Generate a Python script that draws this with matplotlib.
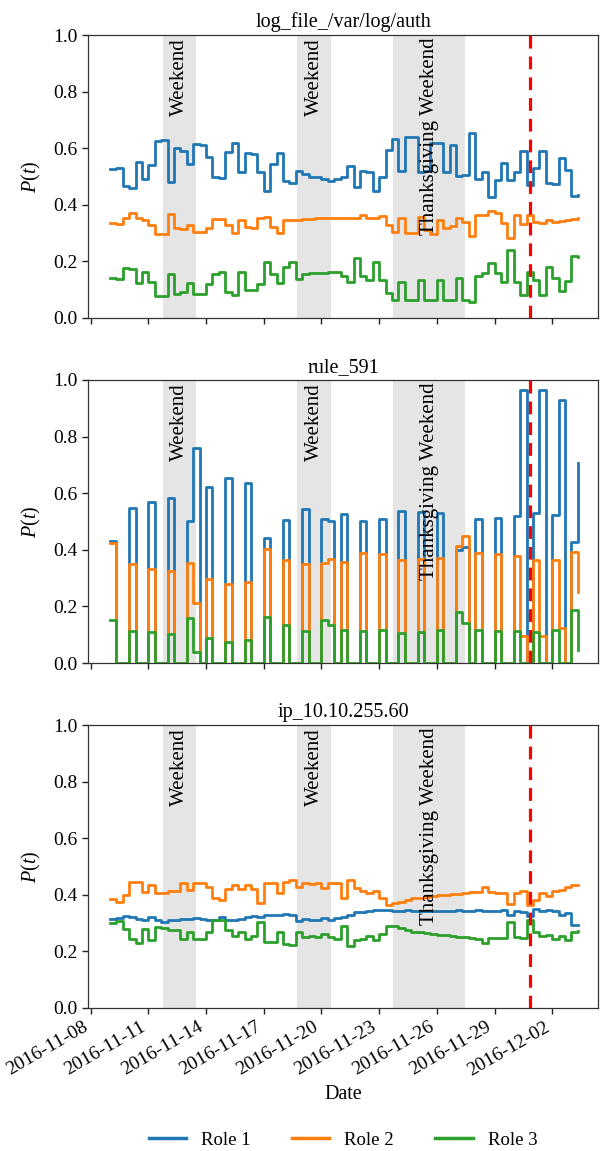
import numpy as np
import pandas as pd
import matplotlib
matplotlib.use('Agg')
import matplotlib.pyplot as plt
import matplotlib.dates as mdates
from matplotlib.lines import Line2D

plt.rcParams['font.family'] = ['Liberation Serif', 'DejaVu Serif']
plt.rcParams['mathtext.fontset'] = 'custom'
plt.rcParams['mathtext.rm'] = 'Liberation Serif'
plt.rcParams['mathtext.it'] = 'Liberation Serif:italic'
plt.rcParams['font.size'] = 14

# ---------------- data ----------------
start_time = '2016-11-09 00:00'
n_bins = 74
bin_freq = '8h'

titles = ['log_file_/var/log/auth', 'rule_591', 'ip_10.10.255.60']
role_names = ['Role 1', 'Role 2', 'Role 3']

log_role1 = [0.525, 0.53, 0.465, 0.46, 0.55, 0.49, 0.54, 0.625, 0.63, 0.48,
             0.60, 0.59, 0.545, 0.615, 0.61, 0.57, 0.50, 0.495, 0.585, 0.62,
             0.515, 0.582, 0.58, 0.515, 0.449, 0.544, 0.582, 0.484, 0.476, 0.52,
             0.508, 0.499, 0.497, 0.49, 0.484, 0.49, 0.497, 0.538, 0.462, 0.52,
             0.515, 0.45, 0.497, 0.594, 0.631, 0.52, 0.641, 0.641, 0.515, 0.52,
             0.62, 0.62, 0.517, 0.611, 0.502, 0.505, 0.655, 0.49, 0.517, 0.429,
             0.488, 0.549, 0.488, 0.517, 0.591, 0.47, 0.529, 0.591, 0.476, 0.473,
             0.564, 0.523, 0.431, 0.435]
log_role2 = [0.335, 0.333, 0.355, 0.37, 0.352, 0.345, 0.33, 0.298, 0.298, 0.367,
             0.318, 0.315, 0.328, 0.305, 0.305, 0.318, 0.35, 0.35, 0.33, 0.30,
             0.346, 0.322, 0.317, 0.352, 0.358, 0.322, 0.30, 0.346, 0.345, 0.348,
             0.35, 0.35, 0.352, 0.355, 0.355, 0.352, 0.355, 0.352, 0.352, 0.364,
             0.352, 0.352, 0.361, 0.329, 0.305, 0.352, 0.301, 0.301, 0.357, 0.311,
             0.297, 0.346, 0.317, 0.325, 0.355, 0.34, 0.29, 0.364, 0.364, 0.377,
             0.37, 0.334, 0.282, 0.364, 0.332, 0.364, 0.339, 0.334, 0.346, 0.339,
             0.343, 0.346, 0.35, 0.352]
log_role3 = [0.14, 0.138, 0.176, 0.172, 0.122, 0.164, 0.128, 0.077, 0.078, 0.157,
             0.086, 0.093, 0.125, 0.085, 0.085, 0.12, 0.156, 0.163, 0.093, 0.082,
             0.161, 0.10, 0.10, 0.12, 0.197, 0.154, 0.122, 0.181, 0.197, 0.138,
             0.156, 0.16, 0.158, 0.16, 0.162, 0.163, 0.15, 0.128, 0.211, 0.15,
             0.134, 0.197, 0.134, 0.09, 0.064, 0.128, 0.064, 0.064, 0.134, 0.064,
             0.064, 0.134, 0.064, 0.064, 0.14, 0.064, 0.058, 0.15, 0.158, 0.195,
             0.158, 0.128, 0.242, 0.128, 0.083, 0.163, 0.134, 0.083, 0.181, 0.14,
             0.095, 0.13, 0.219, 0.215]

rule_role1 = [0.431, 0, 0, 0.547, 0, 0, 0.570, 0, 0, 0.582,
              0, 0, 0.503, 0.759, 0, 0.623, 0, 0, 0.652, 0,
              0, 0.637, 0, 0, 0.443, 0, 0, 0.505, 0, 0,
              0.543, 0, 0, 0.508, 0.503, 0, 0.527, 0, 0, 0.503,
              0, 0, 0.508, 0, 0, 0.538, 0, 0, 0.535, 0,
              0, 0.529, 0, 0, 0.40, 0.41, 0, 0.508, 0, 0,
              0.511, 0, 0, 0.519, 0.965, 0, 0.529, 0.965, 0, 0.523,
              0.929, 0, 0.426, 0.706]
rule_role2 = [0.423, 0, 0, 0.349, 0, 0, 0.331, 0, 0, 0.326,
              0, 0, 0.352, 0.213, 0, 0.297, 0, 0, 0.279, 0,
              0, 0.287, 0, 0, 0.404, 0, 0, 0.364, 0, 0,
              0.349, 0, 0, 0.352, 0.368, 0, 0.358, 0, 0, 0.39,
              0, 0, 0.385, 0, 0, 0.364, 0, 0, 0.366, 0,
              0, 0.37, 0, 0, 0.415, 0.449, 0, 0.388, 0, 0,
              0.385, 0, 0, 0.379, 0.095, 0, 0.364, 0.095, 0, 0.364,
              0.122, 0, 0.393, 0.252]
rule_role3 = [0.153, 0, 0, 0.113, 0, 0, 0.111, 0, 0, 0.104,
              0, 0, 0.158, 0.04, 0, 0.09, 0, 0, 0.074, 0,
              0, 0.081, 0, 0, 0.162, 0, 0, 0.134, 0, 0,
              0.113, 0, 0, 0.153, 0.134, 0, 0.117, 0, 0, 0.114,
              0, 0, 0.117, 0, 0, 0.105, 0, 0, 0.111, 0,
              0, 0.117, 0, 0, 0.181, 0.14, 0, 0.117, 0, 0,
              0.114, 0, 0, 0.114, 0.0, 0, 0.111, 0.0, 0, 0.117,
              0.0, 0, 0.187, 0.046]

ip_role1 = [0.315, 0.318, 0.325, 0.322, 0.315, 0.312, 0.322, 0.31, 0.305, 0.31,
            0.312, 0.315, 0.314, 0.318, 0.316, 0.31, 0.312, 0.32, 0.31, 0.31,
            0.313, 0.32, 0.324, 0.322, 0.33, 0.33, 0.327, 0.333, 0.33, 0.306,
            0.315, 0.31, 0.312, 0.318, 0.312, 0.318, 0.32, 0.33, 0.34, 0.34,
            0.342, 0.345, 0.348, 0.345, 0.342, 0.343, 0.345, 0.343, 0.342, 0.343,
            0.342, 0.344, 0.342, 0.343, 0.345, 0.342, 0.343, 0.345, 0.343, 0.342,
            0.344, 0.345, 0.328, 0.342, 0.338, 0.325, 0.35, 0.342, 0.345, 0.342,
            0.33, 0.335, 0.295, 0.295]
ip_role2 = [0.385, 0.376, 0.40, 0.446, 0.446, 0.41, 0.434, 0.408, 0.408, 0.412,
            0.415, 0.44, 0.418, 0.44, 0.44, 0.426, 0.388, 0.381, 0.42, 0.434,
            0.422, 0.434, 0.42, 0.37, 0.44, 0.44, 0.405, 0.446, 0.452, 0.428,
            0.44, 0.438, 0.44, 0.425, 0.44, 0.44, 0.387, 0.452, 0.423, 0.415,
            0.405, 0.415, 0.39, 0.364, 0.37, 0.375, 0.38, 0.387, 0.39, 0.393,
            0.396, 0.398, 0.40, 0.402, 0.404, 0.406, 0.41, 0.41, 0.426, 0.41,
            0.408, 0.408, 0.367, 0.408, 0.415, 0.364, 0.381, 0.405, 0.396, 0.415,
            0.417, 0.426, 0.434, 0.434]
ip_role3 = [0.30, 0.306, 0.28, 0.245, 0.228, 0.28, 0.24, 0.285, 0.283, 0.276,
            0.276, 0.245, 0.27, 0.245, 0.245, 0.268, 0.312, 0.312, 0.275, 0.256,
            0.27, 0.245, 0.256, 0.305, 0.232, 0.232, 0.27, 0.225, 0.222, 0.27,
            0.25, 0.255, 0.25, 0.26, 0.25, 0.245, 0.29, 0.22, 0.24, 0.245,
            0.255, 0.24, 0.262, 0.29, 0.288, 0.282, 0.275, 0.27, 0.268, 0.264,
            0.262, 0.258, 0.258, 0.255, 0.25, 0.252, 0.247, 0.245, 0.231, 0.248,
            0.248, 0.247, 0.305, 0.25, 0.247, 0.311, 0.27, 0.253, 0.259, 0.243,
            0.253, 0.24, 0.27, 0.271]

event_starts = ['2016-11-11 18:00', '2016-11-18 18:00', '2016-11-23 17:00']
event_ends = ['2016-11-13 11:45', '2016-11-20 11:30', '2016-11-27 11:30']
event_labels = ['Weekend', 'Weekend', 'Thanksgiving Weekend']
alert_time = '2016-11-30 20:00'
tick_dates = ['2016-11-08', '2016-11-11', '2016-11-14', '2016-11-17', '2016-11-20',
              '2016-11-23', '2016-11-26', '2016-11-29', '2016-12-02']

# ---------------- plot ----------------
times = pd.date_range(start_time, periods=n_bins, freq=bin_freq)
panels = [(log_role1, log_role2, log_role3),
          (rule_role1, rule_role2, rule_role3),
          (ip_role1, ip_role2, ip_role3)]
colors = ['#1f77b4', '#ff7f0e', '#2ca02c']

W, H = 600, 1151
fig = plt.figure(figsize=(W / 100, H / 100), dpi=100)
left_px, right_px = 88, 598
tops = [35, 380, 725]
ax_h = 283

xmin = pd.Timestamp('2016-11-08') - pd.Timedelta(days=0.14)
xmax = pd.Timestamp('2016-11-08') + pd.Timedelta(days=26.38)

axes = []
for i, (title, series) in enumerate(zip(titles, panels)):
    ax = fig.add_axes([left_px / W, 1 - (tops[i] + ax_h) / H,
                       (right_px - left_px) / W, ax_h / H])
    axes.append(ax)
    for s0, e0, lab in zip(event_starts, event_ends, event_labels):
        s, e = pd.Timestamp(s0), pd.Timestamp(e0)
        ax.axvspan(s, e, color='gray', alpha=0.2, lw=0, zorder=0)
        ax.text(s + (e - s) / 2, 0.99, lab, rotation=90, ha='center', va='top',
                fontsize=15, zorder=5)
    for vals, c, name in zip(series, colors, role_names):
        ax.step(times, vals, where='post', color=c, lw=2, label=name, zorder=3)
    ax.axvline(pd.Timestamp(alert_time), color='red', ls='--', lw=2.3, zorder=4,
               dashes=(4, 2.5))
    ax.set_ylim(0, 1)
    ax.set_yticks([0, 0.2, 0.4, 0.6, 0.8, 1.0])
    ax.set_yticklabels(['0.0', '0.2', '0.4', '0.6', '0.8', '1.0'])
    ax.set_xlim(xmin, xmax)
    ax.set_xticks(pd.to_datetime(tick_dates))
    ax.xaxis.set_major_formatter(mdates.DateFormatter('%Y-%m-%d'))
    ax.set_ylabel('$P(t)$', fontsize=14.5, labelpad=7)
    ax.set_title(title, fontsize=14.5, pad=6)
    ax.tick_params(direction='out', length=4, width=1, colors='#222222',
                   labelcolor='black', labelsize=14)
    for sp in ax.spines.values():
        sp.set_color('#333333')
        sp.set_linewidth(0.9)
    if i < 2:
        ax.tick_params(labelbottom=False)
    else:
        for lbl in ax.get_xticklabels():
            lbl.set_rotation(30)
            lbl.set_ha('right')
        ax.set_xlabel('Date', fontsize=14.5, labelpad=4)

handles = [Line2D([0], [0], color=c, lw=2.5) for c in colors]
fig.legend(handles, role_names, loc='center', ncol=3, frameon=False,
           bbox_to_anchor=(343 / W, 1 - 1140 / H), columnspacing=2.2,
           handlelength=2.0, fontsize=13.5)

fig.savefig('out.png', dpi=100)
